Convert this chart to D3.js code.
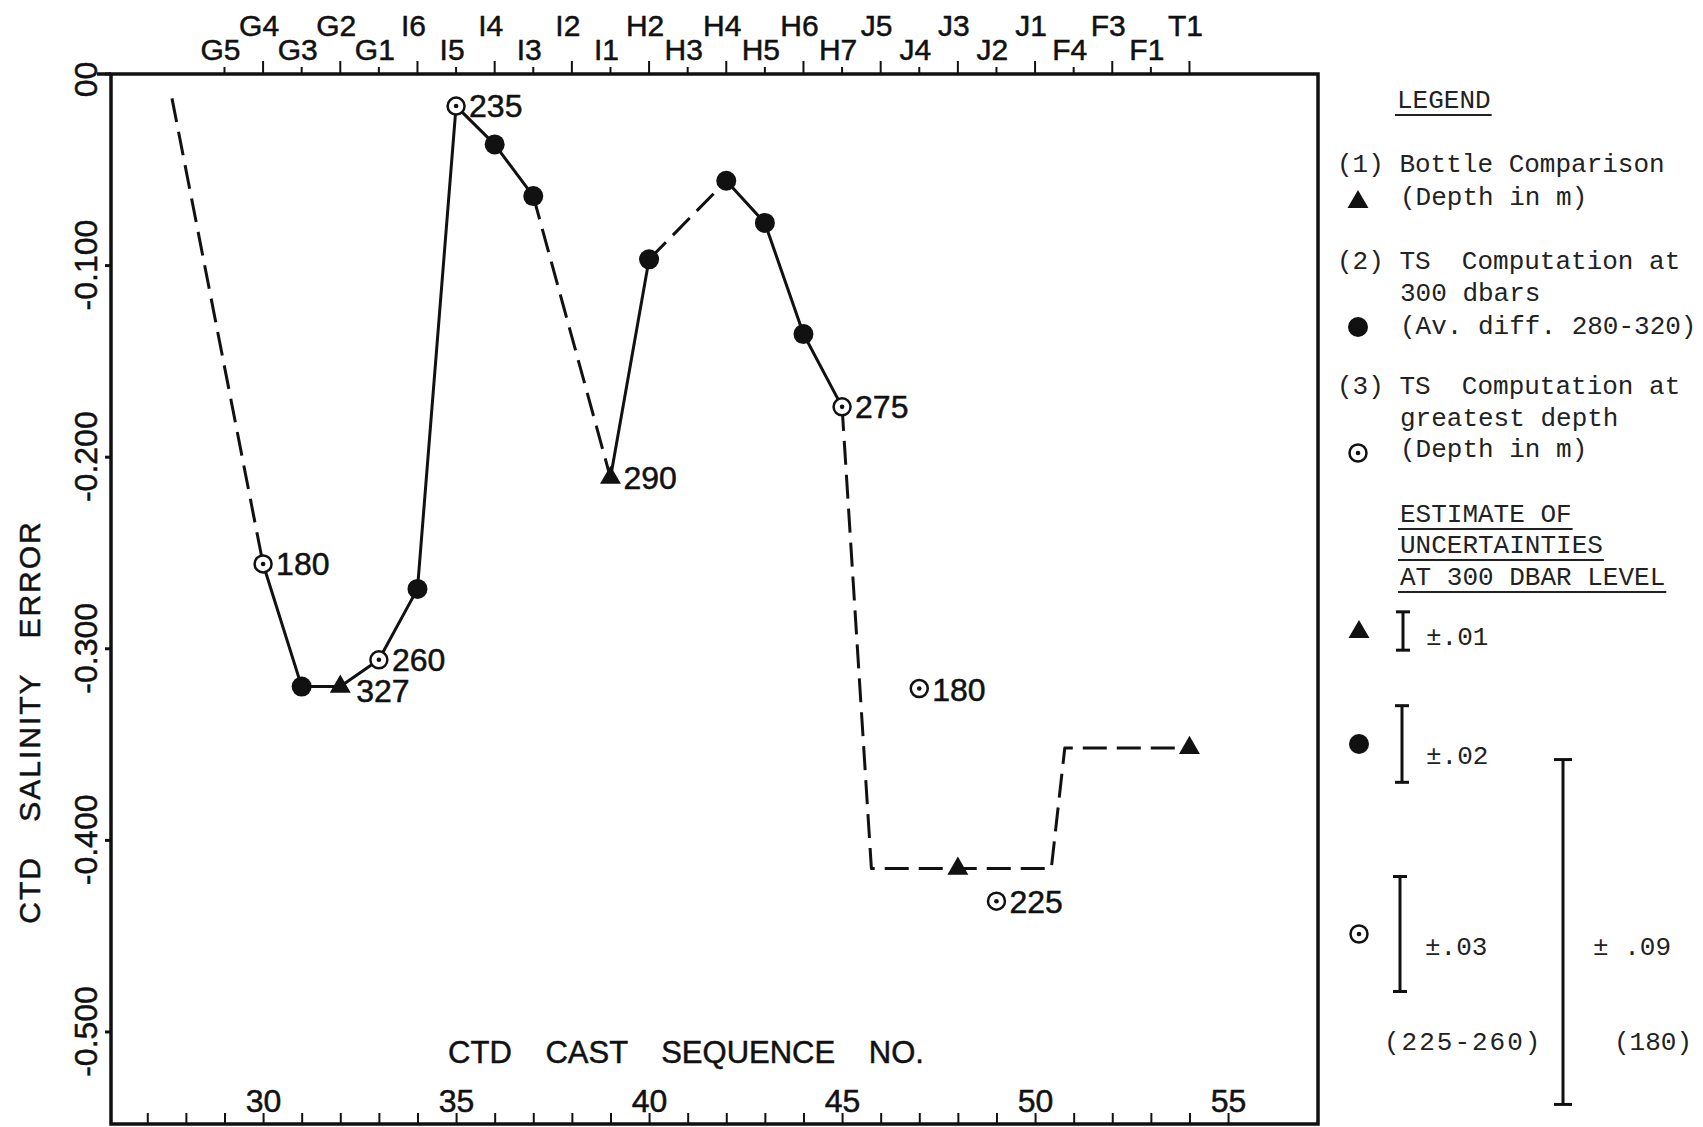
<!DOCTYPE html>
<html>
<head>
<meta charset="utf-8">
<script src="https://cdn.jsdelivr.net/npm/d3@7"></script>
<style>
  html, body { margin: 0; padding: 0; background: #fff; }
  svg { display: block; }
  text { white-space: pre; }
</style>
</head>
<body>
<div id="chart"></div>
<script>
// ---------------- DATA ----------------
const stations     = ["G5","G4","G3","G2","G1","I6","I5","I4","I3","I2","I1","H2","H3","H4","H5","H6","H7","J5","J4","J3","J2","J1","F4","F3","F1","T1"];
const stationCast  = [29,30,31,32,33,34,35,36,37,38,39,40,41,42,43,44,45,46,47,48,49,50,51,52,53,54];

const castTicks    = [27,28,29,30,31,32,33,34,35,36,37,38,39,40,41,42,43,44,45,46,47,48,49,50,51,52,53,54,55];
const castLabels   = [30,35,40,45,50,55];

const yTicks       = [0,-0.1,-0.2,-0.3,-0.4,-0.5];
const yTickLabels  = ["00","-0.100","-0.200","-0.300","-0.400","-0.500"];

// main trace (cast no., salinity error, marker type, depth label)
const traceCast    = [27.64, 30, 31, 32, 33, 34, 35, 36, 37, 39, 40, 42, 43, 44, 45, 45.76, 48, 50.42, 50.77, 54];
const traceValue   = [-0.013,-0.256,-0.320,-0.320,-0.306,-0.269,-0.017,-0.037,-0.064,-0.211,-0.097,-0.056,-0.078,-0.136,-0.174,-0.415,-0.415,-0.415,-0.352,-0.352];
const traceMarker  = ["none","open","filled","triangle","open","filled","open","filled","filled","triangle","filled","filled","filled","filled","open","none","triangle","none","none","triangle"];
const traceLabel   = ["","180","","327","260","","235","","","290","","","","","275","","","","",""];
// style of segment from point i to i+1
const segmentStyle = ["dashed","solid","solid","solid","solid","solid","solid","solid","dashed","solid","dashed","solid","solid","solid","dashed","dashed","dashed","dashed","dashed"];

// isolated points
const extraCast    = [47, 49];
const extraValue   = [-0.321, -0.432];
const extraLabel   = ["180", "225"];

// legend texts
const legendTexts  = ["LEGEND","(1) Bottle Comparison","(Depth in m)","(2) TS  Computation at","300 dbars","(Av. diff. 280-320)","(3) TS  Computation at","greatest depth","(Depth in m)","ESTIMATE OF","UNCERTAINTIES","AT 300 DBAR LEVEL"];
const uncertTexts  = ["\u00B1.01","\u00B1.02","\u00B1.03","\u00B1 .09"];
const uncertValues = [0.01, 0.02, 0.03, 0.09];
const rangeTexts   = ["(225-260)","(180)"];

// ---------------- LAYOUT ----------------
const W = 1703, H = 1127;
const L = 111, R = 1318, T = 74, B = 1124;
const SANS = "'Liberation Sans', Arial, Helvetica, sans-serif";
const MONO = "'Liberation Mono', 'Courier New', monospace";
const INK = "#111";

const svg = d3.select("#chart").append("svg").attr("width", W).attr("height", H);
svg.append("rect").attr("width", W).attr("height", H).attr("fill", "#fff");

const x = d3.scaleLinear().domain([26.06, 57.33]).range([L, R]);
const y = d3.scaleLinear().domain([0, -0.5483]).range([73.5, B]);

function sansText(sel, size) {
  return sel.attr("font-family", SANS).attr("font-size", size).attr("fill", INK)
    .attr("stroke", INK).attr("stroke-width", 0.5);
}

// frame
svg.append("rect").attr("x", L).attr("y", T).attr("width", R - L).attr("height", B - T)
  .attr("fill", "none").attr("stroke", INK).attr("stroke-width", 3.5);
svg.append("line").attr("x1", 97).attr("x2", L).attr("y1", T).attr("y2", T)
  .attr("stroke", INK).attr("stroke-width", 3.5);

// bottom axis (ticks point up, labels above ticks)
const bottomAxis = d3.axisTop(x).tickValues(castTicks).tickSize(11).tickPadding(1)
  .tickFormat(d => castLabels.includes(d) ? String(d) : "");
const gB = svg.append("g").attr("transform", `translate(0,${B})`).call(bottomAxis);
gB.select(".domain").remove();
gB.selectAll(".tick line").attr("stroke", INK).attr("stroke-width", 2);
sansText(gB.selectAll(".tick text"), 32);

// top axis: station ticks, two rows of labels
const gT = svg.append("g");
stations.forEach((s, i) => {
  const upper = i % 2 === 1;
  const xp = x(stationCast[i]);
  gT.append("line").attr("x1", xp).attr("x2", xp).attr("y1", T).attr("y2", T - (upper ? 13 : 7))
    .attr("stroke", INK).attr("stroke-width", 2);
  sansText(gT.append("text"), 30).attr("x", xp - 4).attr("y", upper ? 36 : 60)
    .attr("text-anchor", "middle").text(s);
});

// y axis ticks + rotated labels
const leftAxis = d3.axisLeft(y).tickValues(yTicks).tickSize(6).tickFormat("");
const gL = svg.append("g").attr("transform", `translate(${L},0)`).call(leftAxis);
gL.select(".domain").remove();
gL.selectAll(".tick line").attr("stroke", INK).attr("stroke-width", 3);
yTicks.forEach((v, i) => {
  const yp = y(v) + (i === 0 ? 6 : 0);
  sansText(svg.append("text"), 32).attr("transform", `translate(97,${yp}) rotate(-90)`)
    .attr("text-anchor", "middle").text(yTickLabels[i]);
});

// axis titles
sansText(svg.append("text"), 30).attr("transform", `translate(40,722) rotate(-90)`)
  .attr("text-anchor", "middle").attr("letter-spacing", 2).attr("word-spacing", 24)
  .text("CTD SALINITY ERROR");
sansText(svg.append("text"), 31).attr("x", 686).attr("y", 1063)
  .attr("text-anchor", "middle").attr("word-spacing", 25)
  .text("CTD CAST SEQUENCE NO.");

// ---------------- TRACE ----------------
const pts = traceCast.map((c, i) => ({ c, v: traceValue[i], m: traceMarker[i], lab: traceLabel[i] }));
const line = d3.line().x(d => x(d.c)).y(d => y(d.v));
let runs = [];
segmentStyle.forEach((s, i) => {
  if (runs.length && runs[runs.length - 1].style === s) runs[runs.length - 1].pts.push(pts[i + 1]);
  else runs.push({ style: s, pts: [pts[i], pts[i + 1]] });
});
runs.forEach(r => {
  svg.append("path").attr("d", line(r.pts)).attr("fill", "none")
    .attr("stroke", INK).attr("stroke-width", 3)
    .attr("stroke-linejoin", "round")
    .attr("stroke-dasharray", r.style === "dashed" ? "24,10" : null);
});

function drawMarker(g, type, cx, cy) {
  if (type === "filled") {
    g.append("circle").attr("cx", cx).attr("cy", cy).attr("r", 10).attr("fill", INK);
  } else if (type === "open") {
    g.append("circle").attr("cx", cx).attr("cy", cy).attr("r", 8.5).attr("fill", "#fff")
      .attr("stroke", INK).attr("stroke-width", 2.5);
    g.append("circle").attr("cx", cx).attr("cy", cy).attr("r", 2.3).attr("fill", INK);
  } else if (type === "triangle") {
    g.append("path").attr("d", d3.symbol().type(d3.symbolTriangle).size(190)())
      .attr("transform", `translate(${cx},${cy})`).attr("fill", INK);
  }
}

const gM = svg.append("g");
pts.forEach(p => drawMarker(gM, p.m, x(p.c), y(p.v)));
extraCast.forEach((c, i) => drawMarker(gM, "open", x(c), y(extraValue[i])));

// depth labels
pts.forEach(p => {
  if (!p.lab) return;
  const dx = (p.lab === "327") ? 16 : 13;
  const dy = (p.lab === "327") ? 15 : 11;
  sansText(svg.append("text"), 32).attr("x", x(p.c) + dx).attr("y", y(p.v) + dy).text(p.lab);
});
extraCast.forEach((c, i) => {
  sansText(svg.append("text"), 32).attr("x", x(c) + 13).attr("y", y(extraValue[i]) + 12).text(extraLabel[i]);
});

// ---------------- LEGEND ----------------
const legendPos = [[1397,108,1],[1337,172,0],[1400,205,0],[1337,269,0],[1400,301,0],[1400,334,0],[1337,394,0],[1400,426,0],[1400,457,0],[1400,522,1],[1400,553,1],[1400,585,1]];
const gLeg = svg.append("g");
legendTexts.forEach((t, i) => {
  const [lx, ly, u] = legendPos[i];
  const tx = gLeg.append("text").attr("x", lx).attr("y", ly)
    .attr("font-family", MONO).attr("font-size", 26).attr("fill", "#222").text(t);
  if (u) {
    const w = tx.node().getComputedTextLength();
    gLeg.append("line").attr("x1", lx - 2).attr("x2", lx + w + 1).attr("y1", ly + 7).attr("y2", ly + 7)
      .attr("stroke", "#222").attr("stroke-width", 2);
  }
});
drawMarker(gLeg, "triangle", 1358, 202);
drawMarker(gLeg, "filled", 1358, 327);
drawMarker(gLeg, "open", 1358, 453);

// uncertainty bars (half-length from the y scale)
const barUnit = (y(-0.1) - y(0)) / 0.1;
const bars = [
  { cx: 1403, cy: 631, cap: 7,  mk: "triangle", tx: 1426, ty: 645 },
  { cx: 1402, cy: 744, cap: 7,  mk: "filled",   tx: 1426, ty: 764 },
  { cx: 1400, cy: 934, cap: 7,  mk: "open",     tx: 1425, ty: 955 },
  { cx: 1563, cy: 932, cap: 9,  mk: null,       tx: 1593, ty: 955 }
];
bars.forEach((b, i) => {
  const half = uncertValues[i] * barUnit;
  const g = gLeg.append("g").attr("stroke", INK).attr("stroke-width", 3);
  g.append("line").attr("x1", b.cx).attr("x2", b.cx).attr("y1", b.cy - half).attr("y2", b.cy + half);
  g.append("line").attr("x1", b.cx - b.cap).attr("x2", b.cx + b.cap).attr("y1", b.cy - half).attr("y2", b.cy - half);
  g.append("line").attr("x1", b.cx - b.cap).attr("x2", b.cx + b.cap).attr("y1", b.cy + half).attr("y2", b.cy + half);
  if (b.mk) drawMarker(gLeg, b.mk, 1359, b.cy + (b.mk === "triangle" ? 1 : 0));
  gLeg.append("text").attr("x", b.tx).attr("y", b.ty)
    .attr("font-family", MONO).attr("font-size", 26).attr("fill", "#222").text(uncertTexts[i]);
});
gLeg.append("text").attr("x", 1384).attr("y", 1050).attr("letter-spacing", 2)
  .attr("font-family", MONO).attr("font-size", 26).attr("fill", "#222").text(rangeTexts[0]);
gLeg.append("text").attr("x", 1614).attr("y", 1050)
  .attr("font-family", MONO).attr("font-size", 26).attr("fill", "#222").text(rangeTexts[1]);
</script>
</body>
</html>
